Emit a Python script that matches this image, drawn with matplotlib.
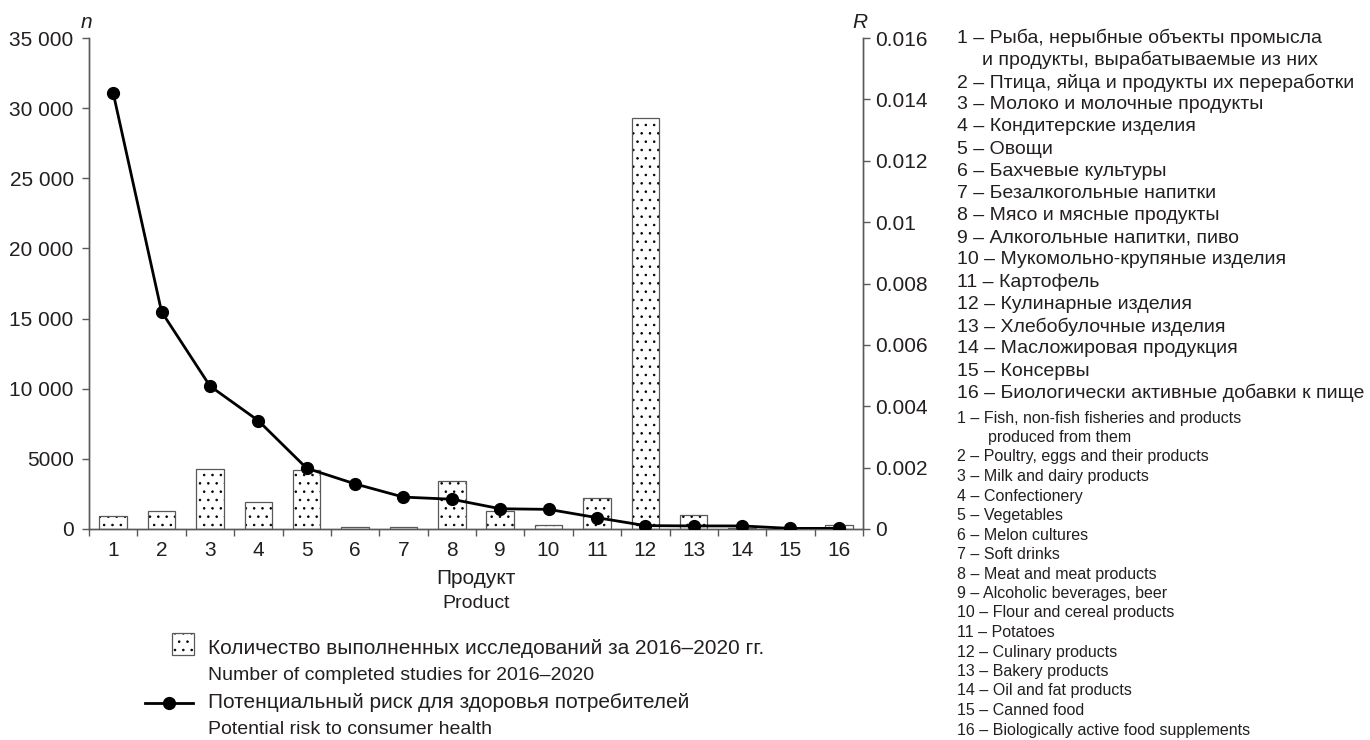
import numpy as np
import matplotlib.pyplot as plt
from matplotlib.patches import Rectangle
from matplotlib.lines import Line2D

plt.rcParams['font.family'] = ['Liberation Sans', 'DejaVu Sans']
plt.rcParams['hatch.linewidth'] = 0.6

# -------------------------------------------------
# Данные
# -------------------------------------------------
products = list(range(1, 17))
studies = [900, 1300, 4250, 1900, 4200, 120, 120, 3400,
           1250, 270, 2200, 29300, 1000, 100, 60, 260]
risk = [0.01421, 0.00708, 0.00466, 0.00353, 0.00198, 0.00147, 0.00104, 0.00097,
        0.00066, 0.00064, 0.00037, 0.00011, 0.00010, 0.00010, 0.00002, 0.00002]

n_ticks = [0, 5000, 10000, 15000, 20000, 25000, 30000, 35000]
n_labels = ["0", "5000", "10 000", "15 000", "20 000", "25 000", "30 000", "35 000"]
r_ticks = [0, 0.002, 0.004, 0.006, 0.008, 0.010, 0.012, 0.014, 0.016]
r_labels = ["0", "0.002", "0.004", "0.006", "0.008", "0.01", "0.012", "0.014", "0.016"]

names_ru = [
    "1 – Рыба, нерыбные объекты промысла",
    "и продукты, вырабатываемые из них",
    "2 – Птица, яйца и продукты их переработки",
    "3 – Молоко и молочные продукты",
    "4 – Кондитерские изделия",
    "5 – Овощи",
    "6 – Бахчевые культуры",
    "7 – Безалкогольные напитки",
    "8 – Мясо и мясные продукты",
    "9 – Алкогольные напитки, пиво",
    "10 – Мукомольно-крупяные изделия",
    "11 – Картофель",
    "12 – Кулинарные изделия",
    "13 – Хлебобулочные изделия",
    "14 – Масложировая продукция",
    "15 – Консервы",
    "16 – Биологически активные добавки к пище",
]
names_en = [
    "1 – Fish, non-fish fisheries and products",
    "produced from them",
    "2 – Poultry, eggs and their products",
    "3 – Milk and dairy products",
    "4 – Confectionery",
    "5 – Vegetables",
    "6 – Melon cultures",
    "7 – Soft drinks",
    "8 – Meat and meat products",
    "9 – Alcoholic beverages, beer",
    "10 – Flour and cereal products",
    "11 – Potatoes",
    "12 – Culinary products",
    "13 – Bakery products",
    "14 – Oil and fat products",
    "15 – Canned food",
    "16 – Biologically active food supplements",
]

TXT = '#231f20'
AX = '#58595b'
W, H = 1370, 740


def fx(px):
    return px / W


def fy(py):
    return 1 - py / H


fig = plt.figure(figsize=(13.7, 7.4), dpi=100)
ax = fig.add_axes([fx(89), fy(529), fx(863) - fx(89), fy(38) - fy(529)])
ax2 = ax.twinx()

# столбцы: точечная штриховка + серый контур
ax.bar(products, studies, width=0.57, color='white', edgecolor='black',
       linewidth=0, hatch='..', zorder=2)
ax.bar(products, studies, width=0.57, fill=False, edgecolor=AX,
       linewidth=0.9, zorder=3)

ax2.plot(products, risk, color='black', lw=2, marker='o', markersize=8.5,
         zorder=4)

ax.set_xlim(0.5, 16.5)
ax.set_ylim(0, 35000)
ax2.set_ylim(0, 0.016)

ax.set_xticks(np.arange(0.5, 17, 1))
ax.set_xticklabels([])
ax.set_xticks(products, minor=True)
ax.set_xticklabels([str(p) for p in products], minor=True)
ax.tick_params(axis='x', which='major', direction='out', length=5, width=1,
               color=AX)
ax.tick_params(axis='x', which='minor', length=0, pad=9, labelsize=15,
               labelcolor=TXT)

ax.set_yticks(n_ticks)
ax.set_yticklabels(n_labels)
ax.tick_params(axis='y', direction='out', length=5, width=1, color=AX,
               pad=6, labelsize=15, labelcolor=TXT)

ax2.set_yticks(r_ticks)
ax2.set_yticklabels(r_labels)
ax2.tick_params(axis='y', direction='out', length=5, width=1, color=AX,
                pad=4, labelsize=15, labelcolor=TXT)

for a in (ax, ax2):
    a.spines['top'].set_visible(False)
    for s in ('left', 'right', 'bottom'):
        a.spines[s].set_color(AX)
        a.spines[s].set_linewidth(1)

# подписи осей
fig.text(fx(86), fy(22), "n", style='italic', fontsize=15, color=TXT,
         ha='center', va='center')
fig.text(fx(860), fy(22), "R", style='italic', fontsize=15, color=TXT,
         ha='center', va='center')
fig.text(fx(476), fy(578), "Продукт", fontsize=15, color=TXT,
         ha='center', va='center')
fig.text(fx(476), fy(604), "Product", fontsize=14, color=TXT,
         ha='center', va='center')

# легенда
box = Rectangle((fx(172), fy(655)), fx(22), 22 / H, transform=fig.transFigure,
                facecolor='white', edgecolor='black', linewidth=0, hatch='..')
fig.add_artist(box)
box_edge = Rectangle((fx(172), fy(655)), fx(22), 22 / H, transform=fig.transFigure,
                     fill=False, edgecolor=AX, linewidth=0.9)
fig.add_artist(box_edge)
fig.text(fx(208), fy(648), "Количество выполненных исследований за 2016–2020 гг.",
         fontsize=15, color=TXT, va='center')
fig.text(fx(208), fy(675), "Number of completed studies for 2016–2020",
         fontsize=14, color=TXT, va='center')
fig.add_artist(Line2D([fx(145), fx(193)], [fy(703), fy(703)],
                      transform=fig.transFigure, color='black', lw=2))
fig.add_artist(Line2D([fx(169)], [fy(703)], transform=fig.transFigure,
                      color='black', marker='o', markersize=8.5, lw=0))
fig.text(fx(208), fy(703), "Потенциальный риск для здоровья потребителей",
         fontsize=15, color=TXT, va='center')
fig.text(fx(208), fy(730), "Potential risk to consumer health",
         fontsize=14, color=TXT, va='center')

# список продуктов справа
for i, line in enumerate(names_ru):
    x = 982 if i == 1 else 957
    fig.text(fx(x), fy(38 + i * 22.2), line, fontsize=14, color=TXT,
             va='center')
for i, line in enumerate(names_en):
    x = 988 if i == 1 else 957
    fig.text(fx(x), fy(418 + i * 19.5), line, fontsize=11.5, color=TXT,
             va='center')

fig.savefig("out.png", dpi=100)
